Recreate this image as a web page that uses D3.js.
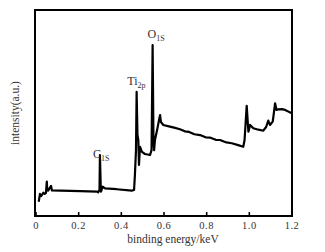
<!DOCTYPE html>
<html>
<head>
<meta charset="utf-8">
<script src="https://cdn.jsdelivr.net/npm/d3@7"></script>
<style>
  body { margin: 0; background: #fff; }
  text { font-family: "Liberation Serif", "DejaVu Serif", serif; fill: #333; }
</style>
</head>
<body>
<div id="xps_plot"></div>
<script>
// spectrum: binding energy (keV) and intensity (a.u., 0-100)
var energy = [0.015, 0.021, 0.027, 0.037, 0.043, 0.049, 0.053, 0.055, 0.059, 0.073, 0.077,
  0.118, 0.209, 0.290, 0.294, 0.300, 0.302, 0.306, 0.307, 0.315, 0.326, 0.381, 0.451,
  0.462, 0.466, 0.471, 0.474, 0.478, 0.482, 0.485, 0.490, 0.499, 0.513, 0.537, 0.544,
  0.549, 0.553, 0.556, 0.560, 0.570, 0.579, 0.584, 0.588, 0.599, 0.630, 0.650, 0.677,
  0.700, 0.720, 0.745, 0.771, 0.800, 0.820, 0.845, 0.865, 0.895, 0.920, 0.950, 0.974,
  0.980, 0.990, 0.998, 1.006, 1.021, 1.045, 1.068, 1.081,
  1.091, 1.099, 1.112, 1.118, 1.123, 1.130, 1.138, 1.155, 1.170, 1.193, 1.200];
var intensity = [6.9, 10.7, 9.7, 11.3, 10.7, 11.2, 16.7, 12.6, 12.3, 14.6, 12.4,
  12.3, 12.1, 11.8, 11.5, 12.6, 29.6, 13.6, 11.8, 14.2, 13.4, 13.0, 12.3,
  12.6, 19.9, 32.0, 60.3, 39.3, 36.9, 24.8, 33.6, 31.1, 30.1, 29.6, 32.0,
  83.0, 36.9, 32.0, 36.9, 41.7, 46.6, 49.0, 45.6, 44.2, 43.4, 42.9, 42.1,
  41.1, 40.8, 39.7, 39.3, 38.1, 38.0, 37.0, 36.9, 35.7, 35.3, 34.4, 33.6,
  36.9, 53.5, 40.9, 44.2, 42.6, 41.9, 41.4, 43.2,
  46.3, 44.2, 45.8, 50.5, 54.7, 51.5, 51.8, 51.9, 51.5, 50.3, 50.0];

var xTicks = [0, 0.2, 0.4, 0.6, 0.8, 1.0, 1.2];
var tickLabels = ["0", "0.2", "0.4", "0.6", "0.8", "1.0", "1.2"];

// peak labels: element, subscript, energy, intensity of the label baseline
var peakNames = ["C", "Ti", "O"];
var peakSubs = ["1S", "2p", "1S"];
var peakEnergy = [0.270, 0.430, 0.525];
var peakLevel = [28.2, 63.5, 86.5];

var width = 325, height = 252;
var margin = {top: 10, right: 33, bottom: 36, left: 35};

var svg = d3.select("#xps_plot")
    .append("svg")
    .attr("width", width)
    .attr("height", height);

var xScale = d3.scaleLinear()
    .domain([0, 1.2])
    .range([margin.left + 0.5, width - margin.right - 0.5]);
var yScale = d3.scaleLinear()
    .domain([0, 100])
    .range([height - margin.bottom, margin.top]);

// bottom ticks point inward
var xAxis = svg.append("g")
    .attr("transform", "translate(0," + (height - margin.bottom) + ")")
    .call(d3.axisBottom(xScale)
        .tickValues(xTicks)
        .tickFormat(function(d, i) { return tickLabels[i]; })
        .tickSizeInner(-4)
        .tickSizeOuter(0)
        .tickPadding(6));
xAxis.select(".domain").remove();
xAxis.selectAll("line").attr("stroke", "#000").attr("stroke-width", 1.6);
xAxis.selectAll("text")
    .style("font-family", "'Liberation Serif', serif")
    .style("font-size", "10.5px")
    .style("letter-spacing", "0.5px")
    .attr("fill", "#333");

// frame
svg.append("rect")
    .attr("x", margin.left)
    .attr("y", margin.top)
    .attr("width", width - margin.left - margin.right)
    .attr("height", height - margin.top - margin.bottom)
    .attr("fill", "none")
    .attr("stroke", "#000")
    .attr("stroke-width", 2);

var pts = energy.map(function(e, i) { return [e, intensity[i]]; });
var line = d3.line()
    .x(function(d) { return xScale(d[0]); })
    .y(function(d) { return yScale(d[1]); });

svg.append("path")
    .datum(pts)
    .attr("d", line)
    .attr("fill", "none")
    .attr("stroke", "#000")
    .attr("stroke-width", 2.2)
    .attr("stroke-linejoin", "round");

// peak labels
peakNames.forEach(function(name, i) {
  var t = svg.append("text")
      .attr("x", xScale(peakEnergy[i]))
      .attr("y", yScale(peakLevel[i]))
      .style("font-size", "12px");
  t.append("tspan").text(name);
  t.append("tspan")
      .attr("dy", 3)
      .style("font-size", "8px")
      .text(peakSubs[i]);
});

// axis titles
svg.append("text")
    .attr("x", 173)
    .attr("y", 243)
    .attr("text-anchor", "middle")
    .style("font-size", "11.5px")
    .text("binding energy/keV");

svg.append("text")
    .attr("transform", "translate(19,113) rotate(-90)")
    .attr("text-anchor", "middle")
    .style("font-size", "11.5px")
    .text("intensity(a.u.)");
</script>
</body>
</html>
